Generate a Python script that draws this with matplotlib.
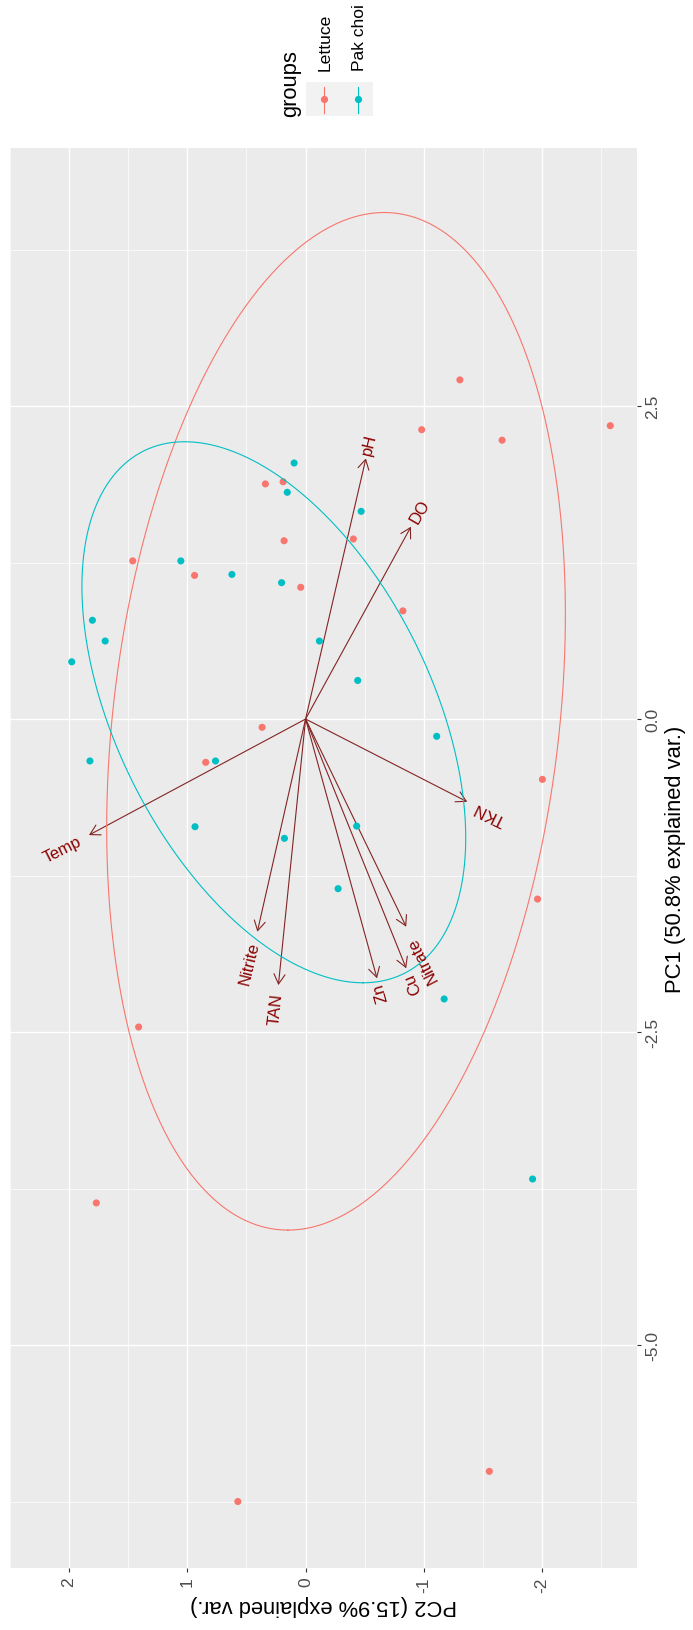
import numpy as np
import matplotlib
matplotlib.use("Agg")
import matplotlib.pyplot as plt
from matplotlib.patches import Rectangle
from matplotlib.lines import Line2D
from matplotlib.textpath import TextPath
from matplotlib.font_manager import FontProperties

plt.rcParams['font.family'] = ['Liberation Sans', 'DejaVu Sans']

# ---- PCA scores per sample ----
lettuce_pc1 = [2.709, 2.343, 2.311, 2.227, 1.878, 1.895, 1.424, 1.438, 1.263, 1.147,
               1.052, 0.864, -0.066, -0.346, -0.482, -1.438, -2.460, -3.865, -6.009, -6.250]
lettuce_pc2 = [-1.305, -2.577, -0.982, -1.662, 0.340, 0.190, 0.182, -0.404, 1.462, 0.939,
               0.041, -0.823, 0.368, 0.845, -2.003, -1.962, 1.412, 1.770, -1.554, 0.573]
pakchoi_pc1 = [2.045, 1.659, 1.811, 1.263, 1.155, 1.089, 0.789, 0.623, 0.457, 0.623,
               0.308, -0.335, -0.335, -0.138, -0.860, -0.953, -0.855, -1.355, -2.236, -3.674]
pakchoi_pc2 = [0.097, -0.470, 0.155, 1.055, 0.623, 0.203, 1.803, 1.695, 1.978, -0.117,
               -0.441, 1.824, 0.762, -1.109, 0.935, 0.179, -0.432, -0.275, -1.172, -1.920]

# ---- variable loadings (arrow tips) ----
var_names = ["pH", "DO", "TKN", "Temp", "Nitrite", "TAN", "Zn", "Cu", "Nitrate"]
var_pc1 = [2.082, 1.536, -0.661, -0.927, -1.699, -2.125, -2.071, -1.991, -1.659]
var_pc2 = [-0.510, -0.891, -1.367, 1.832, 0.408, 0.230, -0.604, -0.851, -0.851]

group_names = ["Lettuce", "Pak choi"]
group_colors = ["#F8766D", "#00BFC4"]

pc1_ticks = [-5.0, -2.5, 0.0, 2.5]
pc1_tick_labels = ["-5.0", "-2.5", "0.0", "2.5"]
pc1_minor = [-6.25, -3.75, -1.25, 1.25, 3.75]
pc2_ticks = [2, 1, 0, -1, -2]
pc2_tick_labels = ["2", "1", "0", "-1", "-2"]
pc2_minor = [2.5, 1.5, 0.5, -0.5, -1.5, -2.5]

pc1_title = "PC1 (50.8% explained var.)"
pc2_title = "PC2 (15.9% explained var.)"
legend_title = "groups"

ellipse_prob = 0.68

# ---- figure / panel geometry (pixels from the top-left corner) ----
W, H = 693, 1631
fig = plt.figure(figsize=(W / 100, H / 100), dpi=100)


def fx(px):
    return px / W


def fy(py):
    return 1 - py / H


pl, pr, pt, pb = 10, 637, 149, 1569
ax = fig.add_axes([fx(pl), fy(pb), (pr - pl) / W, (pb - pt) / H])
ax.set_facecolor("#EBEBEB")
for s in ax.spines.values():
    s.set_visible(False)

# horizontal: PC2 (reversed), vertical: PC1
ax.set_xlim(2.205, -2.803)
ax.set_ylim(-6.781, 4.561)

ax.set_xticks(pc2_ticks)
ax.set_xticklabels(pc2_tick_labels, rotation=90)
ax.set_xticks(pc2_minor, minor=True)
ax.yaxis.tick_right()
ax.set_yticks(pc1_ticks)
ax.set_yticklabels(pc1_tick_labels, rotation=90, va="center")
ax.set_yticks(pc1_minor, minor=True)

ax.grid(which="major", color="white", lw=1.0)
ax.grid(which="minor", color="white", lw=0.5)
ax.set_axisbelow(True)
ax.tick_params(which="minor", length=0)
ax.tick_params(which="major", length=3, width=0.8, color="#333333",
               labelcolor="#4D4D4D", labelsize=12.6, pad=3)

ax.set_xlabel(pc2_title, rotation=180, fontsize=15.8, labelpad=1.5)
ax.yaxis.set_label_position("right")
ax.set_ylabel(pc1_title, rotation=90, fontsize=15.8, labelpad=3)

# ---- loading arrows ----
arrow_color = "#832424"
for p1, p2 in zip(var_pc1, var_pc2):
    ax.annotate("", xy=(p2, p1), xytext=(0, 0),
                arrowprops=dict(arrowstyle="->,head_length=0.7,head_width=0.4",
                                color=arrow_color, lw=0.8, shrinkA=0, shrinkB=0,
                                mutation_scale=10),
                zorder=2)

# ---- sample points ----
groups = [(lettuce_pc1, lettuce_pc2), (pakchoi_pc1, pakchoi_pc2)]
for (g1, g2), col in zip(groups, group_colors):
    ax.scatter(g2, g1, s=26, color=col, edgecolors="none", zorder=3)

# ---- normal-probability ellipses per group ----
ed = np.sqrt(-2 * np.log(1 - ellipse_prob))
theta = np.linspace(-np.pi, np.pi, 400)
circle = np.column_stack([np.cos(theta), np.sin(theta)])
for (g1, g2), col in zip(groups, group_colors):
    xy = np.column_stack([g1, g2])
    sigma = np.cov(xy, rowvar=False)
    mu = xy.mean(axis=0)
    ell = circle @ np.linalg.cholesky(sigma).T * ed + mu
    ax.plot(ell[:, 1], ell[:, 0], color=col, lw=0.8, zorder=4)

# ---- loading labels ----
label_size = 12
fp = FontProperties(family="Liberation Sans", size=label_size)
for name, p1, p2 in zip(var_names, var_pc1, var_pc2):
    w = TextPath((0, 0), name, size=label_size, prop=fp).get_extents().width
    rot = np.degrees(np.arctan(p2 / p1)) + 90
    d = np.array([-p2, p1])
    d = d / np.linalg.norm(d)
    off = d * 0.25 * w
    ax.annotate(name, xy=(p2, p1), xytext=(off[0], off[1]), textcoords="offset points",
                ha="left" if p1 > 0 else "right", va="center",
                rotation=rot, rotation_mode="anchor",
                color="#8B0000", fontsize=label_size, zorder=5)

# ---- legend (drawn sideways, above the panel) ----
fig.text(fx(290.5), fy(117), legend_title, rotation=90, ha="center", va="bottom",
         fontsize=15.8, color="black")
fig.patches.append(Rectangle((fx(306), fy(117.3)), (373 - 306) / W, (117.3 - 82.7) / H,
                             transform=fig.transFigure, facecolor="#F2F2F2",
                             edgecolor="none"))
key_x = [324, 357.7]
for name, col, kx in zip(group_names, group_colors, key_x):
    fig.lines.append(Line2D([fx(kx), fx(kx)], [fy(114), fy(88)], transform=fig.transFigure,
                            color=col, lw=0.8))
    fig.lines.append(Line2D([fx(kx)], [fy(100)], transform=fig.transFigure, color=col,
                            marker="o", markersize=5.2, markeredgewidth=0, linestyle="none"))
    fig.text(fx(kx + 1.5), fy(71), name, rotation=90, ha="center", va="bottom",
             fontsize=12.6, color="black")

fig.savefig("out.png", dpi=100)
